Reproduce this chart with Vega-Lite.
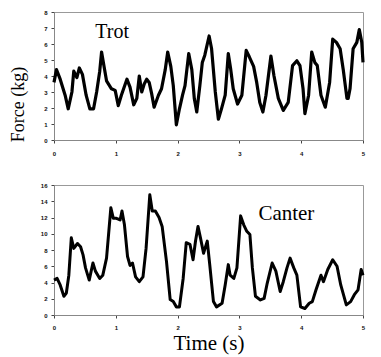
{
  "$schema": "https://vega.github.io/schema/vega-lite/v6.json",
  "padding": {"left": 9, "top": 8, "right": 9, "bottom": 1},
  "background": "white",
  "spacing": 24,
  "config": {
    "view": {"stroke": "#999999", "strokeWidth": 1},
    "axis": {
      "grid": false,
      "domainColor": "#888888",
      "tickColor": "#444444",
      "tickSize": 3,
      "labelFont": "Liberation Sans",
      "labelFontSize": 6,
      "labelFontWeight": "bold",
      "labelColor": "#111111",
      "labelOverlap": false,
      "labelFlush": false,
      "format": "d",
      "titleFont": "Liberation Serif",
      "titleFontWeight": "normal",
      "titleColor": "#000000"
    }
  },
  "datasets": {
    "trot": [
      {"t": 0, "force": 3.6}, {"t": 0.04, "force": 4.4}, {"t": 0.1, "force": 3.8}, {"t": 0.18, "force": 2.8},
      {"t": 0.23, "force": 1.95}, {"t": 0.29, "force": 3.0}, {"t": 0.32, "force": 4.3}, {"t": 0.37, "force": 3.9},
      {"t": 0.41, "force": 4.5}, {"t": 0.46, "force": 4.1}, {"t": 0.52, "force": 2.8}, {"t": 0.58, "force": 1.95},
      {"t": 0.64, "force": 1.95}, {"t": 0.69, "force": 3.0}, {"t": 0.74, "force": 4.3}, {"t": 0.77, "force": 5.5},
      {"t": 0.81, "force": 4.6}, {"t": 0.85, "force": 3.7}, {"t": 0.93, "force": 3.2}, {"t": 0.99, "force": 3.1},
      {"t": 1.04, "force": 2.15}, {"t": 1.09, "force": 2.8}, {"t": 1.18, "force": 3.8}, {"t": 1.23, "force": 3.3},
      {"t": 1.29, "force": 2.2}, {"t": 1.34, "force": 2.6}, {"t": 1.38, "force": 4.0}, {"t": 1.42, "force": 3.0},
      {"t": 1.46, "force": 3.5}, {"t": 1.5, "force": 3.8}, {"t": 1.54, "force": 3.6}, {"t": 1.58, "force": 2.9},
      {"t": 1.62, "force": 2.05}, {"t": 1.69, "force": 2.8}, {"t": 1.74, "force": 3.2}, {"t": 1.8, "force": 4.4},
      {"t": 1.84, "force": 5.5}, {"t": 1.89, "force": 4.6}, {"t": 1.93, "force": 3.4}, {"t": 1.98, "force": 0.95},
      {"t": 2.03, "force": 1.95}, {"t": 2.08, "force": 2.8}, {"t": 2.12, "force": 3.4}, {"t": 2.18, "force": 5.4},
      {"t": 2.23, "force": 4.4}, {"t": 2.27, "force": 2.6}, {"t": 2.31, "force": 1.75}, {"t": 2.36, "force": 3.4},
      {"t": 2.4, "force": 4.85}, {"t": 2.44, "force": 5.3}, {"t": 2.51, "force": 6.5}, {"t": 2.55, "force": 5.7},
      {"t": 2.61, "force": 3.0}, {"t": 2.66, "force": 1.3}, {"t": 2.71, "force": 1.95}, {"t": 2.77, "force": 2.8},
      {"t": 2.82, "force": 5.4}, {"t": 2.86, "force": 4.4}, {"t": 2.9, "force": 3.2}, {"t": 2.97, "force": 2.25},
      {"t": 3.04, "force": 2.8}, {"t": 3.11, "force": 5.6}, {"t": 3.16, "force": 5.2}, {"t": 3.23, "force": 4.6},
      {"t": 3.28, "force": 3.6}, {"t": 3.33, "force": 2.35}, {"t": 3.38, "force": 1.75}, {"t": 3.43, "force": 2.8},
      {"t": 3.51, "force": 5.25}, {"t": 3.56, "force": 4.0}, {"t": 3.63, "force": 2.6}, {"t": 3.71, "force": 1.85},
      {"t": 3.79, "force": 2.35}, {"t": 3.86, "force": 4.65}, {"t": 3.93, "force": 4.95}, {"t": 3.98, "force": 4.65},
      {"t": 4.03, "force": 3.2}, {"t": 4.06, "force": 1.65}, {"t": 4.12, "force": 2.8}, {"t": 4.17, "force": 5.5},
      {"t": 4.22, "force": 4.85}, {"t": 4.26, "force": 4.65}, {"t": 4.32, "force": 2.8}, {"t": 4.39, "force": 2.05},
      {"t": 4.46, "force": 3.6}, {"t": 4.51, "force": 6.3}, {"t": 4.57, "force": 6.1}, {"t": 4.63, "force": 5.7},
      {"t": 4.68, "force": 4.4}, {"t": 4.74, "force": 2.6}, {"t": 4.76, "force": 2.6}, {"t": 4.79, "force": 3.2},
      {"t": 4.84, "force": 5.7}, {"t": 4.9, "force": 6.1}, {"t": 4.94, "force": 6.9}, {"t": 4.98, "force": 6.1},
      {"t": 5.0, "force": 4.85}
    ],
    "canter": [
      {"t": 0, "force": 4.3}, {"t": 0.05, "force": 4.5}, {"t": 0.1, "force": 3.7}, {"t": 0.16, "force": 2.3},
      {"t": 0.2, "force": 2.7}, {"t": 0.24, "force": 4.9}, {"t": 0.28, "force": 9.5}, {"t": 0.32, "force": 8.2},
      {"t": 0.38, "force": 8.8}, {"t": 0.43, "force": 8.4}, {"t": 0.47, "force": 7.4}, {"t": 0.51, "force": 5.8},
      {"t": 0.57, "force": 4.3}, {"t": 0.63, "force": 6.4}, {"t": 0.67, "force": 5.4}, {"t": 0.74, "force": 4.5},
      {"t": 0.79, "force": 4.9}, {"t": 0.85, "force": 7.0}, {"t": 0.92, "force": 13.2}, {"t": 0.96, "force": 11.9},
      {"t": 1.01, "force": 11.9}, {"t": 1.07, "force": 11.7}, {"t": 1.1, "force": 12.8}, {"t": 1.14, "force": 11.1},
      {"t": 1.19, "force": 7.2}, {"t": 1.23, "force": 6.1}, {"t": 1.27, "force": 6.4}, {"t": 1.32, "force": 4.7},
      {"t": 1.38, "force": 4.1}, {"t": 1.44, "force": 4.7}, {"t": 1.49, "force": 8.2}, {"t": 1.55, "force": 14.8},
      {"t": 1.59, "force": 12.8}, {"t": 1.64, "force": 12.8}, {"t": 1.7, "force": 12.0}, {"t": 1.75, "force": 10.9},
      {"t": 1.82, "force": 6.6}, {"t": 1.88, "force": 1.9}, {"t": 1.93, "force": 1.65}, {"t": 1.98, "force": 1.0},
      {"t": 2.03, "force": 1.0}, {"t": 2.09, "force": 4.5}, {"t": 2.14, "force": 8.9}, {"t": 2.2, "force": 8.7},
      {"t": 2.25, "force": 6.8}, {"t": 2.29, "force": 9.1}, {"t": 2.33, "force": 10.9}, {"t": 2.37, "force": 9.5},
      {"t": 2.42, "force": 7.6}, {"t": 2.48, "force": 9.1}, {"t": 2.52, "force": 6.2}, {"t": 2.58, "force": 1.65},
      {"t": 2.63, "force": 1.0}, {"t": 2.72, "force": 1.45}, {"t": 2.77, "force": 3.7}, {"t": 2.82, "force": 6.2},
      {"t": 2.85, "force": 4.9}, {"t": 2.91, "force": 4.5}, {"t": 2.96, "force": 5.8}, {"t": 3.02, "force": 12.2},
      {"t": 3.07, "force": 11.1}, {"t": 3.12, "force": 10.3}, {"t": 3.17, "force": 9.9}, {"t": 3.21, "force": 5.8},
      {"t": 3.26, "force": 2.3}, {"t": 3.34, "force": 1.85}, {"t": 3.4, "force": 2.05}, {"t": 3.45, "force": 3.9},
      {"t": 3.53, "force": 6.4}, {"t": 3.59, "force": 5.4}, {"t": 3.66, "force": 2.9}, {"t": 3.71, "force": 4.1},
      {"t": 3.77, "force": 5.8}, {"t": 3.82, "force": 7.0}, {"t": 3.88, "force": 5.8}, {"t": 3.93, "force": 4.9},
      {"t": 3.99, "force": 1.0}, {"t": 4.06, "force": 0.8}, {"t": 4.13, "force": 1.45}, {"t": 4.18, "force": 1.65},
      {"t": 4.24, "force": 3.1}, {"t": 4.32, "force": 4.9}, {"t": 4.36, "force": 4.1}, {"t": 4.43, "force": 5.6},
      {"t": 4.51, "force": 6.8}, {"t": 4.58, "force": 6.0}, {"t": 4.64, "force": 3.7}, {"t": 4.73, "force": 1.25},
      {"t": 4.8, "force": 1.65}, {"t": 4.86, "force": 2.5}, {"t": 4.92, "force": 3.1}, {"t": 4.97, "force": 5.6},
      {"t": 5.0, "force": 4.9}
    ],
    "labels": [
      {"panel": "Trot", "t": 0.94, "force": 6.75, "label": "Trot"},
      {"panel": "Canter", "t": 3.76, "force": 12.4, "label": "Canter"}
    ]
  },
  "vconcat": [
    {
      "width": 309,
      "height": 128,
      "encoding": {
        "x": {"field": "t", "type": "quantitative", "scale": {"domain": [0, 5], "nice": false},
              "axis": {"title": null, "values": [0, 1, 2, 3, 4, 5], "labelPadding": 7, "labelOverlap": false}},
        "y": {"field": "force", "type": "quantitative", "scale": {"domain": [0, 8], "nice": false},
              "axis": {"title": "Force (kg)", "titleFontSize": 18, "titleY": 92, "titlePadding": 16,
                       "values": [0, 1, 2, 3, 4, 5, 6, 7, 8], "labelPadding": 4, "labelOverlap": false}}
      },
      "layer": [
        {
          "data": {"name": "trot"},
          "mark": {"type": "line", "color": "#000000", "strokeWidth": 3.2, "strokeJoin": "round"}
        },
        {
          "data": {"name": "labels"},
          "transform": [{"filter": "datum.panel == 'Trot'"}],
          "mark": {"type": "text", "font": "Liberation Serif", "fontSize": 20, "color": "#000000", "align": "center", "baseline": "middle"},
          "encoding": {"text": {"field": "label"}}
        }
      ]
    },
    {
      "width": 309,
      "height": 130,
      "encoding": {
        "x": {"field": "t", "type": "quantitative", "scale": {"domain": [0, 5], "nice": false},
              "axis": {"title": "Time (s)", "titleFontSize": 21, "titlePadding": 2,
                       "values": [0, 1, 2, 3, 4, 5], "labelPadding": 6, "labelOverlap": false}},
        "y": {"field": "force", "type": "quantitative", "scale": {"domain": [0, 16], "nice": false},
              "axis": {"title": null, "values": [0, 2, 4, 6, 8, 10, 12, 14, 16], "labelPadding": 4, "labelOverlap": false}}
      },
      "layer": [
        {
          "data": {"name": "canter"},
          "mark": {"type": "line", "color": "#000000", "strokeWidth": 3, "strokeJoin": "round"}
        },
        {
          "data": {"name": "labels"},
          "transform": [{"filter": "datum.panel == 'Canter'"}],
          "mark": {"type": "text", "font": "Liberation Serif", "fontSize": 21, "color": "#000000", "align": "center", "baseline": "middle"},
          "encoding": {"text": {"field": "label"}}
        }
      ]
    }
  ]
}
